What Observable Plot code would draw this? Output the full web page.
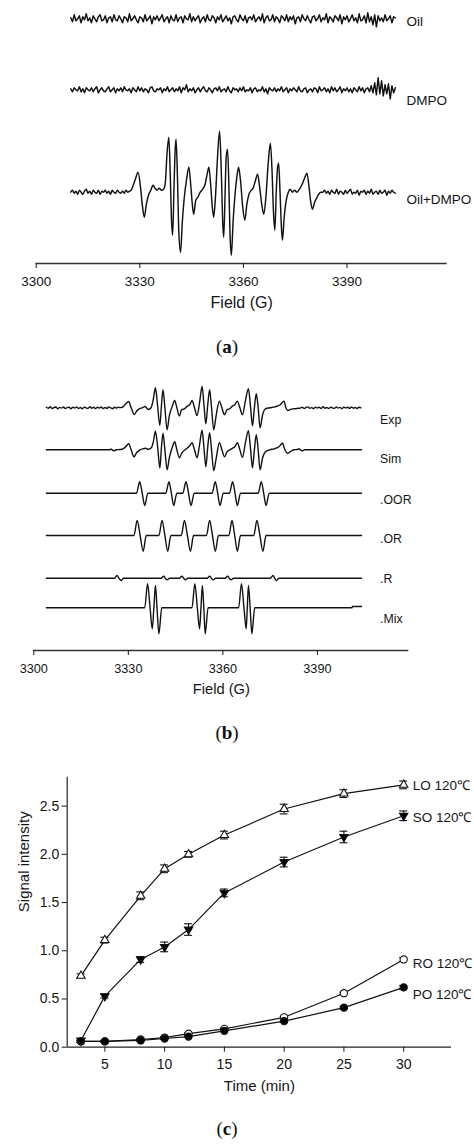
<!DOCTYPE html>
<html><head><meta charset="utf-8">
<script src="https://cdn.jsdelivr.net/npm/d3@7"></script>
<script src="https://cdn.jsdelivr.net/npm/@observablehq/plot@0.6"></script>
<style>
html,body{margin:0;padding:0;background:#fff;}
#root{position:relative;width:474px;height:1145px;overflow:hidden;font-family:'Liberation Sans',Arial,sans-serif;}
#root svg{position:absolute;left:0;}
.cap{position:absolute;left:0;width:454px;text-align:center;font-family:'Liberation Serif','Times New Roman',serif;font-size:19px;line-height:20px;color:#111;}
</style></head><body><div id="root"></div>
<script>
// ---------- Panel (a): EPR traces (amplitudes, px-like units) ----------
const fieldTicks = [3300, 3330, 3360, 3390];
const oilNoise = [1,-3,4,-2,0,3,-4,2,-1,5,-2,1,-4,3,0,-3,2,4,-2,-1,
  3,-4,1,2,-3,4,-1,-2,3,0,-4,2,1,-3,5,-2,0,3,-1,-4,
  2,1,-3,4,-2,0,3,-5,2,-1,3,-2,1,4,-3,0,2,-4,3,-1,
  -2,4,-3,1,2,-4,3,0,-1,5,-3,2,-2,1,3,-4,0,2,-3,4,
  -1,-2,3,1,-4,2,-1,4,-3,0,3,-2,1,-5,2,3,-1,-3,4,0,
  -2,3,-4,1,2,-1,4,-3,0,2,-2,5,-4,1,3,-2,-1,4,-3,2,
  0,-4,3,1,-2,4,-3,2,-1,3,-5,1,2,-3,4,0,-2,3,-1,-4,
  2,3,-2,0,4,-3,1,-1,5,-4,2,0,-3,3,1,-2,4,-5,2,-1,
  3,-3,0,4,-2,1,-4,5,-2,-1,3,-4,6,-3,2,-6,4,-8,3,-2,
  1,-3,4,-2,0,3,-4,2,1];
const dmpoNoise = [1,-2,2,0,-1,3,-2,1,-3,2,0,-1,2,-2,1,3,-3,0,2,-1,
  -2,1,3,-2,0,2,-3,1,-1,2,-2,3,0,-1,1,-3,2,0,-2,3,
  -1,2,-2,1,0,-3,2,3,-1,-2,1,0,2,-3,1,-1,3,-2,0,2,
  -2,1,-1,3,-3,2,0,5,-2,1,-1,2,-3,0,2,-2,1,3,-1,-2,
  2,0,-3,1,2,-1,3,-2,0,1,-2,3,-1,-3,2,0,1,-2,2,-1,
  3,-2,0,-1,2,-3,1,2,-2,0,-1,3,-2,1,-4,2,0,-1,2,-2,
  1,-1,3,-2,0,2,-3,1,-1,2,0,-2,3,-1,-2,1,2,-3,0,1,
  -2,2,1,-3,3,-1,0,2,-2,1,-3,3,-1,2,-2,0,3,-3,1,-1,
  2,-2,1,-3,2,0,-2,3,-1,2,-3,1,2,-2,4,-3,7,-5,12,-4,
  9,-6,5,-4,6,-9,4,-3,2];
const oilDmpoLeftNoise = [0,2,-1,1,-2,2,0,-2,1,3,-1,1,-2,2,0,-1,2,-2,1,0,2,-1,1,-2,2,0,-1,2,0,-1,1,-1,2,0,1,2];
const oilDmpoLines = [[3328,6],[3328.8,14],[3329.5,20],[3330.2,5],[3330.8,-15],[3331.3,-25],[3331.9,-12],[3332.5,-3],[3333.2,2],[3333.8,7],[3334.4,4],[3335,2],[3335.6,4],[3336.3,2],[3336.9,3],[3337.4,10],[3337.9,40],[3338.4,55],[3338.8,20],[3339.2,-30],[3339.5,-43],[3339.9,5],[3340.2,40],[3340.5,53],[3340.9,15],[3341.3,-40],[3341.8,-60],[3342.3,-30],[3342.8,-8],[3343.5,12],[3344.2,25],[3344.8,5],[3345.2,-12],[3345.6,-22],[3346.2,-8],[3346.8,-5],[3347.5,0],[3348.2,3],[3348.9,8],[3349.5,18],[3350,25],[3350.5,8],[3351,-15],[3351.4,-25],[3351.9,-5],[3352.5,35],[3353.1,61],[3353.6,20],[3354,-30],[3354.3,-45],[3354.7,0],[3355,35],[3355.4,43],[3355.8,5],[3356.1,-40],[3356.5,-63],[3357,-30],[3357.5,-5],[3358.1,15],[3358.6,25],[3359.2,10],[3359.8,-15],[3360.4,-28],[3361,-12],[3361.6,-2],[3362.3,2],[3362.9,5],[3363.5,12],[3364.1,18],[3364.7,5],[3365.3,-12],[3365.9,-22],[3366.5,-5],[3367.2,30],[3367.8,49],[3368.3,20],[3368.7,-20],[3369.1,-38],[3369.5,0],[3369.9,25],[3370.2,29],[3370.6,0],[3371,-35],[3371.3,-48],[3371.8,-25],[3372.4,-8],[3373,0],[3373.5,3],[3374.2,0],[3374.8,2],[3375.5,0],[3376.2,3],[3377,8],[3377.8,15],[3378.4,19],[3379,5],[3379.5,-10],[3380,-17],[3380.6,-10],[3381.2,-6],[3381.8,-2],[3382.4,0]];
const oilDmpoRightNoise = [0,2,-1,1,-2,2,0,-1,3,-2,1,0,-2,2,-1,1,3,-2,0,-1,2,-3,1,0,2,-2,1,-1,3,-2,0,1,-2,2,-1,0,2,-3,1,-1,2,0,-1];
const panelALabels = ["Oil", "DMPO", "Oil+DMPO"];

// ---------- Panel (b) ----------
const expLeftNoise = [0.5,-0.5,1,-0.8,0.3,0.8,-1,0.4,-0.3,0.9,-0.7,0.2,0.6,-0.9,0.5,-0.2,0.8,-0.6,0.3,-1,0.7,0,-0.6,1,-0.4,0.5,-0.8,0.6,-0.2,0.9,-0.7,0.3,-0.5,0.8,0,-0.9,0.6,-0.3,0.7,0.2];
const expLines = [[3328.3,1],[3329.2,4],[3330.1,6.3],[3330.9,0],[3331.9,-6.7],[3332.7,-3],[3333.5,-1],[3334.4,0],[3335.3,1.3],[3336.3,-1.7],[3337.2,0],[3337.9,8],[3338.6,20],[3339.2,5],[3340,-17.7],[3340.5,2],[3341,18],[3341.6,0],[3342.3,-22],[3343,-8],[3344,2],[3344.7,7.3],[3345.4,0],[3346.2,-8.3],[3346.9,-2],[3347.8,-1],[3348.7,1.7],[3349.5,3],[3350.2,7.3],[3351,0],[3351.8,-7.7],[3352.6,5],[3353.4,21.3],[3354,3],[3354.6,-16],[3355.2,3],[3355.8,18],[3356.4,0],[3357.1,-22],[3357.9,-7],[3358.9,6.7],[3359.7,0],[3360.5,-7],[3361.3,-2],[3362.2,-1],[3363,1.7],[3363.8,3],[3364.6,6.7],[3365.4,0],[3366.2,-7],[3367.2,8],[3368.1,19],[3368.8,0],[3369.4,-18],[3370,0],[3370.6,14],[3371.2,0],[3371.8,-20],[3372.6,-7],[3373.5,-1],[3375,0],[3376.5,1],[3378.2,3],[3379.4,6.7],[3380,0],[3380.6,-2.7],[3381.5,-1.5],[3382.5,-1],[3384,-0.5]];
const expRightNoise = [-0.3,0.6,-0.8,0.4,0.9,-0.5,0.2,-0.9,0.7,-0.2,0.5,-0.7,1,-0.4,0.3,-0.8,0.6,0,-0.6,0.9,-0.3,0.4,-1,0.7,-0.2,0.5,-0.6,0.8,-0.4,0.3,-0.7,0.6,0];
const simLines = [[3304,0],[3323.8,0],[3324.6,0.6],[3325.3,-0.9],[3326.2,0],[3327.4,0.3],[3328.3,1],[3329.3,3.5],[3330.1,6],[3330.9,0],[3331.8,-7],[3332.6,-3],[3333.5,-0.5],[3334.5,1],[3335.5,1.5],[3336.4,0.5],[3337.3,2],[3338,9],[3338.6,18.7],[3339.3,3],[3340,-18.3],[3340.5,2],[3341,16.7],[3341.6,0],[3342.3,-20],[3343,-8],[3344,3],[3344.7,8],[3345.4,0],[3346.2,-8],[3347,-3],[3348,0],[3348.8,2],[3349.5,4],[3350.2,7],[3351,0],[3351.8,-8],[3352.6,5],[3353.4,19.5],[3354,2],[3354.6,-17],[3355.2,3],[3355.8,17],[3356.4,0],[3357.1,-21],[3357.9,-8],[3358.9,7],[3359.7,0],[3360.5,-7],[3361.3,-2],[3362.2,0],[3363,1.5],[3363.8,3],[3364.6,7],[3365.4,0],[3366.2,-7.5],[3367.2,8],[3368.1,19],[3368.8,0],[3369.4,-18],[3370,0],[3370.6,15],[3371.2,0],[3371.8,-20],[3372.6,-8],[3373.5,-2],[3374.8,0],[3376.3,1],[3377.8,3],[3378.9,6.5],[3379.7,0],[3380.5,-3.5],[3381.5,-1.5],[3382.6,0],[3383.5,0.3],[3384.3,0.8],[3385.1,-1],[3386,0],[3404,0]];
const oorLines = [[3304,0],[3332.6,0],[3333.6,11.5],[3334.4,0],[3335.2,-12.3],[3336.2,0],[3341.9,0],[3342.9,11.5],[3343.65,0],[3344.4,-12.3],[3345.4,0],[3347.3,0],[3348.3,11.5],[3349.1,0],[3349.9,-12.3],[3350.9,0],[3356.6,0],[3357.6,11.5],[3358.35,0],[3359.1,-12.3],[3360.1,0],[3362.1,0],[3363.1,11.5],[3363.85,0],[3364.6,-12.3],[3365.6,0],[3371.2,0],[3372.2,11.5],[3372.95,0],[3373.7,-12.3],[3374.7,0],[3404,0]];
const orLines = [[3304,0],[3331.8,0],[3332.8,15],[3333.75,0],[3334.7,-15.7],[3335.7,0],[3339.7,0],[3340.7,15],[3341.6,0],[3342.5,-15.7],[3343.5,0],[3346.8,0],[3347.8,15],[3348.75,0],[3349.7,-15.7],[3350.7,0],[3354.8,0],[3355.8,15],[3356.7,0],[3357.6,-15.7],[3358.6,0],[3361.9,0],[3362.9,15],[3363.75,0],[3364.6,-15.7],[3365.6,0],[3369.8,0],[3370.8,15],[3371.75,0],[3372.7,-15.7],[3373.7,0],[3404,0]];
const rLines = [[3304,0],[3325.6,0],[3326.4,2.7],[3327.05,0],[3327.7,-2.3],[3328.5,0],[3340.4,0],[3341.2,2],[3341.75,0],[3342.3,-1.7],[3343.1,0],[3346.2,0],[3347,2],[3347.55,0],[3348.1,-1.7],[3348.9,0],[3355,0],[3355.8,2],[3356.35,0],[3356.9,-1.7],[3357.7,0],[3360.7,0],[3361.5,2],[3362.05,0],[3362.6,-1.7],[3363.4,0],[3375.1,0],[3375.9,2.7],[3376.45,0],[3377,-2.3],[3377.8,0],[3404,0]];
const mixLines = [[3304,0],[3335.2,0],[3336.1,24],[3336.9,0],[3337.6,-21],[3338.1,0],[3338.6,22.3],[3339.1,0],[3339.7,-26],[3340.6,0],[3350.2,0],[3351.1,24],[3351.9,0],[3352.6,-21],[3353.05,0],[3353.5,22.3],[3353.95,0],[3354.4,-26],[3355.3,0],[3365,0],[3365.9,24],[3366.7,0],[3367.4,-21],[3367.75,0],[3368.1,22.3],[3368.65,0],[3369.2,-26],[3370.1,0],[3401,0],[3401.1,1.3],[3404,1.3]];
const panelBLabels = ["Exp", "Sim", ".OOR", ".OR", ".R", ".Mix"];

// ---------- Panel (c) ----------
const times = [3, 5, 8, 10, 12, 15, 20, 25, 30];
const loVals = [0.74, 1.11, 1.57, 1.85, 2.00, 2.20, 2.47, 2.63, 2.72];
const loErr  = [0.02, 0.03, 0.04, 0.04, 0.03, 0.04, 0.05, 0.04, 0.04];
const soVals = [0.07, 0.53, 0.91, 1.04, 1.22, 1.60, 1.92, 2.18, 2.40];
const soErr  = [0.02, 0.02, 0.03, 0.05, 0.06, 0.04, 0.05, 0.06, 0.05];
const roVals = [0.06, 0.06, 0.08, 0.10, 0.14, 0.19, 0.31, 0.56, 0.91];
const roErr  = [0.01, 0.01, 0.01, 0.01, 0.01, 0.01, 0.01, 0.01, 0.02];
const poVals = [0.06, 0.06, 0.07, 0.09, 0.11, 0.17, 0.27, 0.41, 0.62];
const poErr  = [0.01, 0.01, 0.01, 0.01, 0.01, 0.01, 0.01, 0.01, 0.02];
const seriesNames = ["LO 120℃", "SO 120℃", "RO 120℃", "PO 120℃"];
const timeTicks = [5, 10, 15, 20, 25, 30];
const intensityTicks = [0, 0.5, 1.0, 1.5, 2.0, 2.5];

// ---------- helpers ----------
const seg = (start, step, vals) => vals.map((v, i) => [start + i * step, v]);
const rows = (pairs, offset) => pairs.map(([f, a]) => ({field: f, y: a + offset}));
const FONT = "'Liberation Sans', Arial, sans-serif";
const INK = "#151515";
const root = document.getElementById("root");
function place(el, top) { el.style.top = top + "px"; root.appendChild(el); }
function caption(letter, top) {
  const d = document.createElement("div");
  d.className = "cap"; d.style.top = top + "px";
  d.innerHTML = "(<b>" + letter + "</b>)";
  root.appendChild(d);
}

// ---------- Panel (a) ----------
const aTraces = [
  {label: panelALabels[0], data: rows(seg(3310, 0.5, oilNoise), 244.7), labelY: 242.3, curve: "linear"},
  {label: panelALabels[1], data: rows(seg(3310, 0.5, dmpoNoise), 173.7), labelY: 163, curve: "linear"},
  {label: panelALabels[2], data: rows([...seg(3310, 0.5, oilDmpoLeftNoise), ...oilDmpoLines, ...seg(3383, 0.5, oilDmpoRightNoise)], 71.3), labelY: 63.7, curve: "monotone-x"}
];
const plotA = Plot.plot({
  width: 474, height: 320,
  marginTop: 0, marginBottom: 57, marginLeft: 35.7, marginRight: 27.3,
  x: {domain: [3300, 3419]},
  y: {domain: [0, 263], axis: null},
  style: {fontFamily: FONT, color: INK, background: "transparent", overflow: "visible"},
  marks: [
    Plot.ruleY([0], {stroke: "#333", strokeWidth: 1.3}),
    Plot.axisX({ticks: fieldTicks, tickFormat: d => String(d), tickSize: 5, tickPadding: 8, fontSize: 13.5, label: null, color: INK}),
    ...aTraces.map(t => Plot.line(t.data, {x: "field", y: "y", stroke: "#111", strokeWidth: 1.45, curve: t.curve})),
    Plot.text(aTraces, {x: () => 3407.2, y: "labelY", text: "label", textAnchor: "start", fontSize: 13.5, fill: INK}),
    Plot.text(["Field (G)"], {text: d => d, frameAnchor: "bottom", dy: 44, fontSize: 16, fill: INK})
  ]
});
place(plotA, 0);
caption("a", 337);

// ---------- Panel (b) ----------
const bTraces = [
  {label: panelBLabels[0], data: rows([...seg(3304, 0.6, expLeftNoise), ...expLines, ...seg(3384.6, 0.6, expRightNoise)], 242.7), labelY: 230, curve: "monotone-x"},
  {label: panelBLabels[1], data: rows(simLines, 200.7), labelY: 191, curve: "monotone-x"},
  {label: panelBLabels[2], data: rows(oorLines, 157.3), labelY: 150.5, curve: "monotone-x"},
  {label: panelBLabels[3], data: rows(orLines, 115), labelY: 111, curve: "monotone-x"},
  {label: panelBLabels[4], data: rows(rLines, 72.3), labelY: 71.5, curve: "monotone-x"},
  {label: panelBLabels[5], data: rows(mixLines, 42.7), labelY: 31.7, curve: "monotone-x"}
];
const plotB = Plot.plot({
  width: 474, height: 350,
  marginTop: 0, marginBottom: 60, marginLeft: 33.3, marginRight: 65.7,
  x: {domain: [3300, 3419]},
  y: {domain: [0, 290], axis: null},
  style: {fontFamily: FONT, color: INK, background: "transparent", overflow: "visible"},
  marks: [
    Plot.ruleY([0], {stroke: "#333", strokeWidth: 1.3}),
    Plot.axisX({ticks: fieldTicks, tickFormat: d => String(d), tickSize: 5, tickPadding: 8, fontSize: 12.7, label: null, color: INK}),
    ...bTraces.map(t => Plot.line(t.data, {x: "field", y: "y", stroke: "#111", strokeWidth: 1.4, curve: t.curve})),
    Plot.text(bTraces, {x: () => 3409.9, y: "labelY", text: "label", textAnchor: "start", fontSize: 12.3, fill: INK}),
    Plot.text(["Field (G)"], {text: d => d, frameAnchor: "bottom", dy: 43.3, fontSize: 14.7, fill: INK})
  ]
});
place(plotB, 360);
caption("b", 723);

// ---------- Panel (c) ----------
const triangleDown = {
  draw(context, size) {
    const y = Math.sqrt(size / (Math.sqrt(3) * 3));
    context.moveTo(0, 2 * y);
    context.lineTo(Math.sqrt(3) * y, -y);
    context.lineTo(-Math.sqrt(3) * y, -y);
    context.closePath();
  }
};
const series = [
  {name: seriesNames[0], vals: loVals, err: loErr, symbol: "triangle", fill: "white", r: 3.1, labelDy: 0.8},
  {name: seriesNames[1], vals: soVals, err: soErr, symbol: triangleDown, fill: "black", r: 3.1, labelDy: 1.6},
  {name: seriesNames[2], vals: roVals, err: roErr, symbol: "circle", fill: "white", r: 3.6, labelDy: 4},
  {name: seriesNames[3], vals: poVals, err: poErr, symbol: "circle", fill: "black", r: 3.6, labelDy: 7.3}
];
const cRows = series.flatMap(s => times.map((t, i) => ({series: s.name, t, v: s.vals[i], e: s.err[i]})));
const plotC = Plot.plot({
  width: 474, height: 345,
  marginTop: 16.7, marginBottom: 58.3, marginLeft: 66.7, marginRight: 23,
  x: {domain: [1.85, 34]},
  y: {domain: [0, 2.8]},
  style: {fontFamily: FONT, color: INK, background: "transparent", overflow: "visible"},
  marks: [
    Plot.ruleY([0], {stroke: "#222", strokeWidth: 1.2}),
    Plot.ruleX([1.85], {stroke: "#222", strokeWidth: 1.2}),
    Plot.axisX({ticks: timeTicks, tickSize: 5, tickPadding: 7, fontSize: 14, label: null, color: INK}),
    Plot.axisY({ticks: intensityTicks, tickFormat: d3.format(".1f"), tickSize: 5, tickPadding: 3, fontSize: 14, label: null, color: INK}),
    Plot.line(cRows, {x: "t", y: "v", z: "series", stroke: "#111", strokeWidth: 1.2}),
    Plot.ruleX(cRows, {x: "t", y1: d => d.v - d.e, y2: d => d.v + d.e, stroke: "#111", strokeWidth: 1.1}),
    Plot.ruleY(cRows, {y: d => d.v + d.e, x1: d => d.t - 0.33, x2: d => d.t + 0.33, stroke: "#111", strokeWidth: 1.1}),
    Plot.ruleY(cRows, {y: d => d.v - d.e, x1: d => d.t - 0.33, x2: d => d.t + 0.33, stroke: "#111", strokeWidth: 1.1}),
    ...series.map(s => Plot.dot(cRows.filter(d => d.series === s.name), {x: "t", y: "v", symbol: () => s.symbol, r: s.r, fill: s.fill, stroke: "#111", strokeWidth: 1.1})),
    ...series.map(s => Plot.text(cRows.filter(d => d.series === s.name && d.t === 30), {x: "t", y: "v", text: "series", textAnchor: "start", dx: 9, dy: s.labelDy, fontSize: 13.5, fill: INK})),
    Plot.text(["Time (min)"], {text: d => d, frameAnchor: "bottom", dy: 43.3, fontSize: 15, fill: INK}),
    Plot.text(["Signal intensity"], {text: d => d, frameAnchor: "left", dx: -43.4, rotate: -90, fontSize: 15, fill: INK})
  ]
});
place(plotC, 760);
caption("c", 1119);
</script></body></html>
